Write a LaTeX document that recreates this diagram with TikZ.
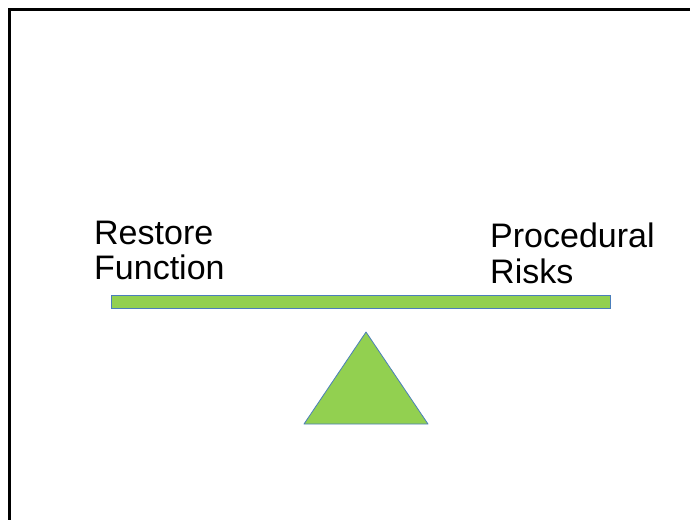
\documentclass[tikz,border=0pt]{standalone}
\usepackage{fontspec}
\setmainfont{Liberation Sans}
\usetikzlibrary{positioning}
\definecolor{beamGreen}{HTML}{92D050}
\definecolor{edgeBlue}{HTML}{4A7EBB}

\begin{document}
\begin{tikzpicture}[x=1pt, y=-1pt,
    part/.style={draw=edgeBlue, line width=0.8pt, fill=beamGreen},
    label/.style={inner sep=0pt, align=left, anchor=base west,
                  font=\fontsize{34}{35.5}\selectfont},
  ]
    \useasboundingbox (0,0) rectangle (690,520);
    % slide frame (top and left edges only)
    \draw[line width=3pt] (690,9.5) -- (9.5,9.5) -- (9.5,520);

    % lever and fulcrum
    \node[part, rectangle, inner sep=0pt, minimum width=499pt,
          minimum height=13pt] (beam) at (360.5,301.5) {};
    \coordinate (apex) at (366,332);
    \coordinate (baseL) at (304,424);
    \coordinate (baseR) at (428,424);
    \draw[part, line join=round] (apex) -- (baseR) -- (baseL) -- cycle;

    \node[label] (restore) at (94,279.5) {Restore\\Function};
    \node[label] (risks) at (490,283) {Procedural\\Risks};
  \end{tikzpicture}
\end{document}
